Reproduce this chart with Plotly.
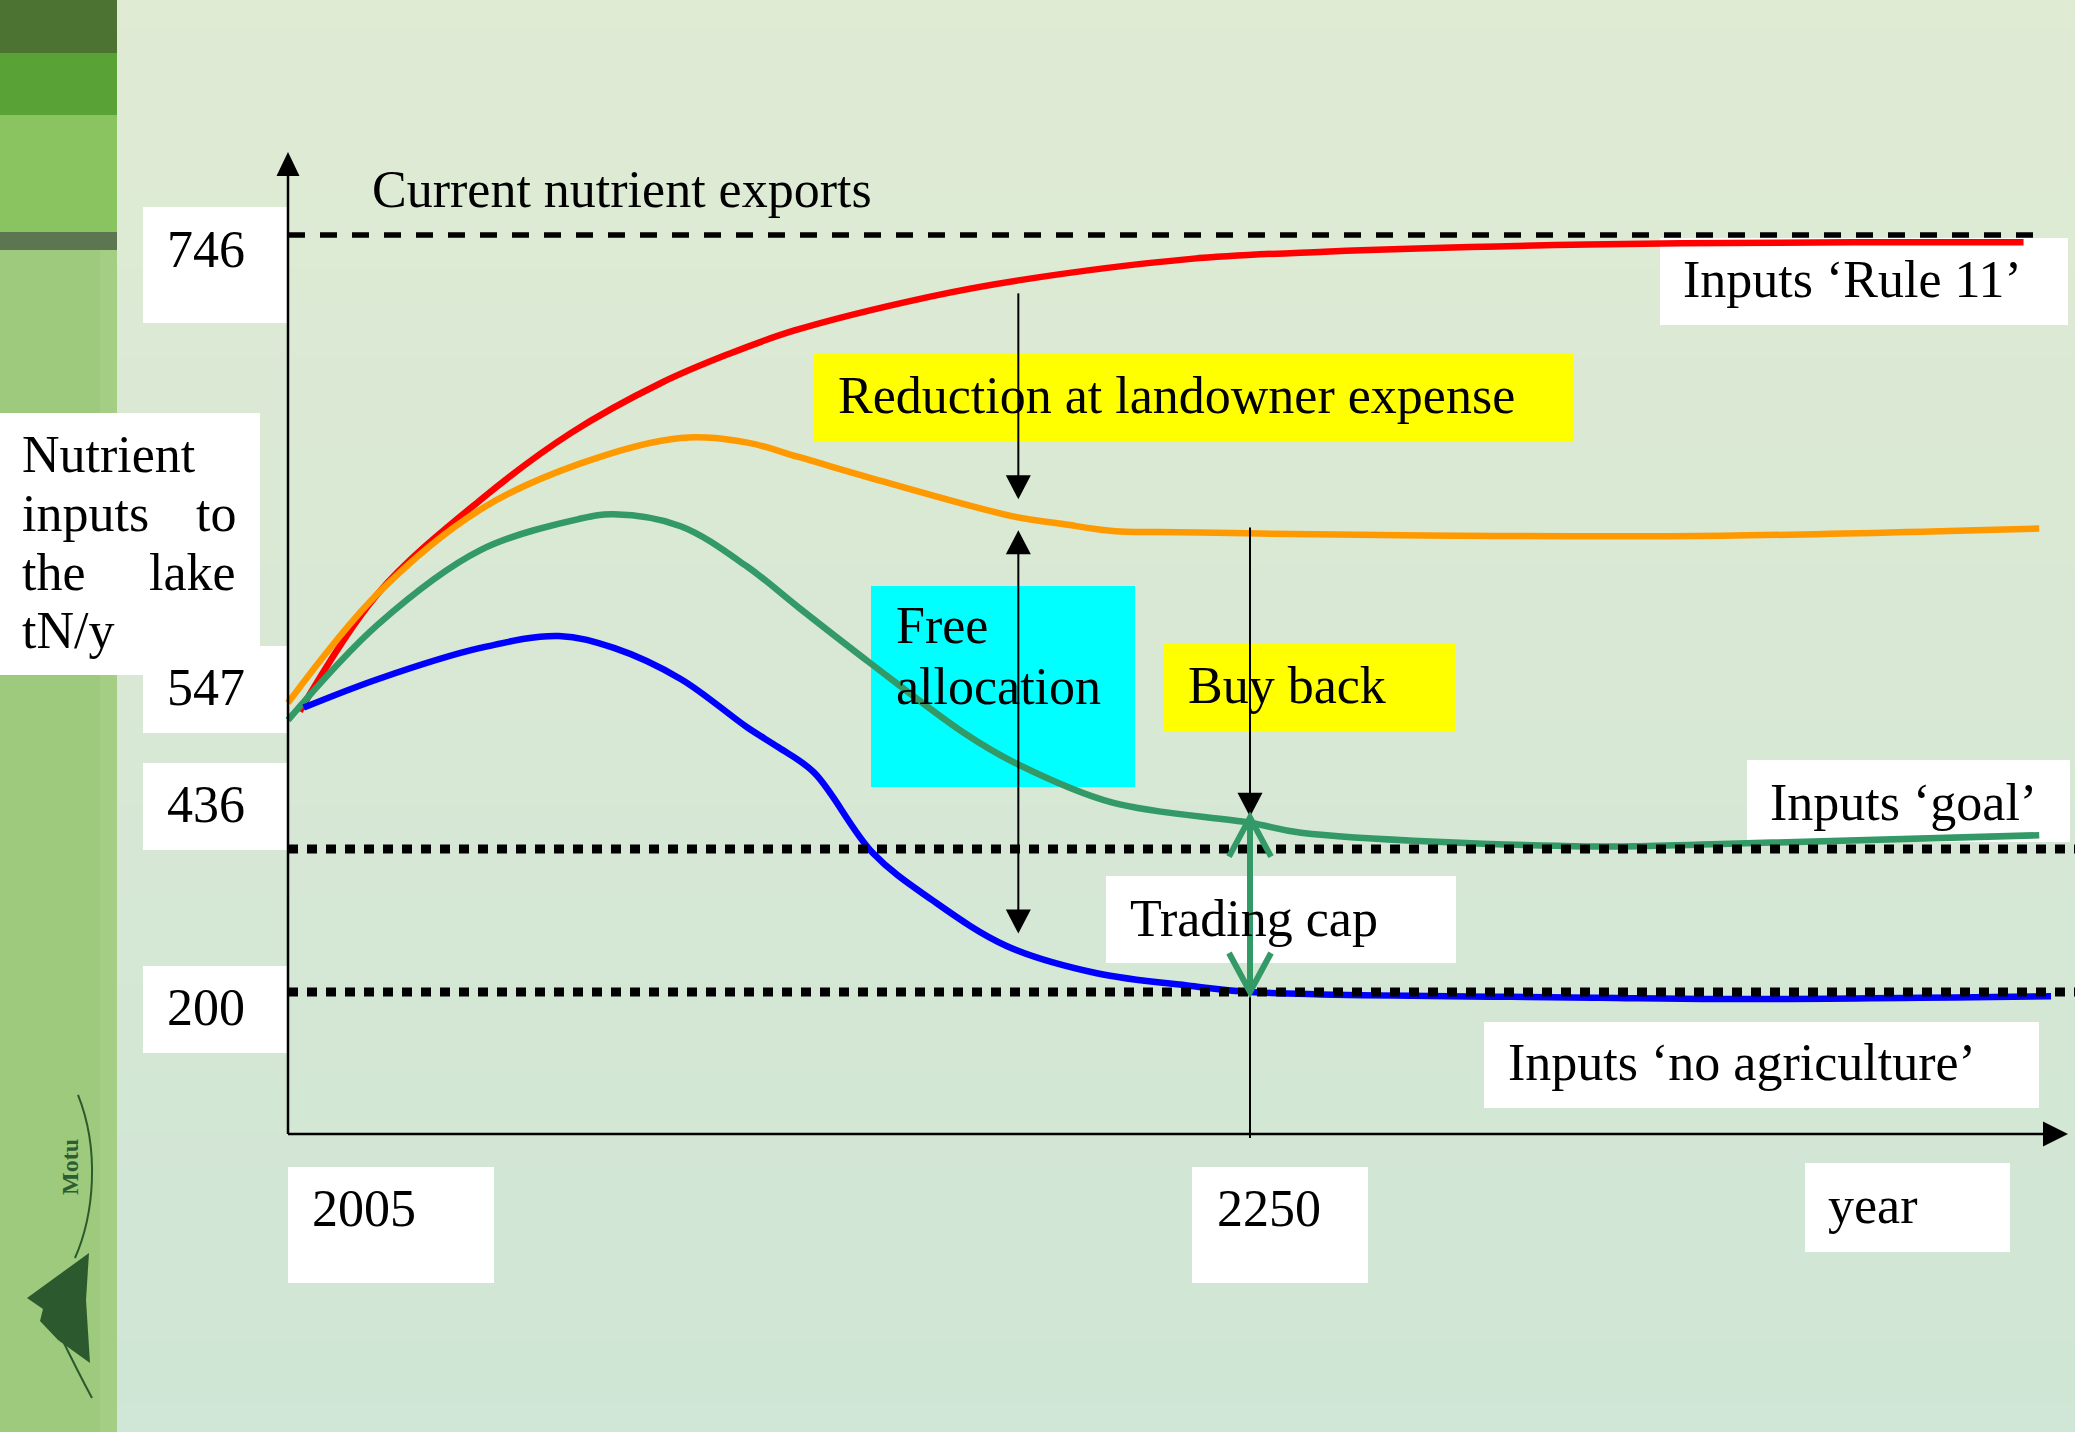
import numpy as np
import plotly.graph_objects as go

W, H = 2075, 1432
FONT = "Liberation Serif"

# ------------------------------------------------------------------ data
LEVEL_VALUES = [746, 547, 436, 200]            # tN/y levels marked on the vertical axis
LEVEL_LABELS = ["746", "547", "436", "200"]
EXPORTS_LEVEL = 746                            # current nutrient exports
GOAL_LEVEL = 436                               # inputs 'goal'
NO_AG_LEVEL = 200                              # inputs 'no agriculture'

START_YEAR = 2005
CAP_YEAR = 2250
SPLIT_YEAR = 2191                              # where the allocation arrows are drawn
YEAR_LABELS = ["2005", "2250", "year"]

rule11_years = [2008, 2028, 2054, 2077, 2100, 2117, 2134, 2168, 2191, 2235, 2269, 2336, 2404, 2447]
rule11_inputs = [546, 596, 635, 663, 684, 696, 706, 720, 727, 736, 739, 742, 743, 743]

landowner_years = [2005, 2028, 2054, 2079, 2105, 2122, 2135, 2156, 2190, 2202, 2215, 2232,
                   2249, 2302, 2370, 2451]
landowner_inputs = [550, 596, 631, 650, 661, 659, 653, 643, 628, 625, 622, 621.5,
                    621, 620, 620, 623]

goal_years = [2005, 2028, 2054, 2079, 2088, 2105, 2122, 2135, 2153, 2177, 2190, 2215,
              2250, 2263, 2336, 2370, 2451]
goal_inputs = [539, 583, 614, 627, 629, 624, 607, 590, 567, 529, 505, 473,
               457, 449, 438, 440, 447]

noag_years = [2009, 2028, 2054, 2074, 2088, 2105, 2122, 2130, 2139, 2154, 2169, 2188, 2211,
              2235, 2250, 2339, 2370, 2454]
noag_inputs = [548, 560, 573, 578, 573, 560, 533, 517, 497, 429, 352, 276, 231,
               210, 200, 192, 190, 194]

# ------------------------------------------------------------------ scales
# The diagram is schematic: each labelled level sits at a fixed height,
# with straight-line spacing in between (axis units are pixels above the bottom).
SCALE_VALUES = [0, 200, 436, 547, 746, 900]
SCALE_HEIGHTS = [298, 440, 583, 722, 1197, 1565]


def yv(v):
    return np.interp(np.asarray(v, dtype=float), SCALE_VALUES, SCALE_HEIGHTS)


AXIS_X_PX, CAP_X_PX = 288, 1250
PPY = (CAP_X_PX - AXIS_X_PX) / (CAP_YEAR - START_YEAR)      # pixels per year
X0 = START_YEAR - AXIS_X_PX / PPY
X1 = X0 + W / PPY


def xpx(px):          # pixel column -> year
    return X0 + px / PPY


def fx(px):           # pixel -> paper
    return px / W


def fy(py):
    return 1 - py / H


fig = go.Figure()
shapes = []

# ------------------------------------------------------------------ slide background
TOP, BOT = np.array([224, 235, 212]), np.array([208, 230, 214])
NB = 48
for i in range(NB):
    c = TOP + (BOT - TOP) * i / (NB - 1)
    shapes.append(dict(type="rect", xref="paper", yref="paper", layer="below",
                       x0=0, x1=1, y0=fy((i + 1) * H / NB + 1), y1=fy(i * H / NB),
                       fillcolor="rgb(%d,%d,%d)" % tuple(c.astype(int)), line_width=0))

SIDEBAR = [(0, 53, "#4d7332"), (53, 115, "#58a236"), (115, 232, "#89c460"),
           (232, 250, "#5c7651"), (250, H, "#9dca7c")]
for y0, y1, col in SIDEBAR:
    shapes.append(dict(type="rect", xref="paper", yref="paper", layer="below",
                       x0=0, x1=fx(117), y0=fy(y1), y1=fy(y0), fillcolor=col, line_width=0))
shapes.append(dict(type="rect", xref="paper", yref="paper", layer="below",
                   x0=fx(100), x1=fx(117), y0=0, y1=fy(250),
                   fillcolor="rgba(190,225,165,0.2)", line_width=0))


def ppath(pts, close=True):
    s = "M " + " L ".join("%.5f,%.5f" % (fx(x), fy(y)) for x, y in pts)
    return s + (" Z" if close else "")


# logo
LOGO = "#2c5a2e"
shapes.append(dict(type="path", xref="paper", yref="paper", layer="below",
                   path="M %.5f,%.5f C %.5f,%.5f %.5f,%.5f %.5f,%.5f" % (
                       fx(78), fy(1095), fx(100), fy(1150), fx(94), fy(1215), fx(75), fy(1258)),
                   line=dict(color=LOGO, width=2)))
shapes.append(dict(type="path", xref="paper", yref="paper", layer="below",
                   path="M %.5f,%.5f Q %.5f,%.5f %.5f,%.5f" % (
                       fx(60), fy(1335), fx(78), fy(1372), fx(92), fy(1398)),
                   line=dict(color=LOGO, width=2)))
shapes.append(dict(type="path", xref="paper", yref="paper", layer="below",
                   path=ppath([(89, 1253), (27, 1298), (43, 1309), (40, 1321), (58, 1340),
                               (90, 1363), (86, 1300)]),
                   fillcolor=LOGO, line_width=0))

# ------------------------------------------------------------------ label boxes
BOXES = [
    ((0, 413, 260, 675), "white"),          # axis title
    ((143, 207, 288, 323), "white"),        # 746
    ((143, 646, 288, 733), "white"),        # 547
    ((143, 763, 288, 850), "white"),        # 436
    ((143, 966, 288, 1053), "white"),       # 200
    ((1660, 238, 2068, 325), "white"),      # Rule 11
    ((814, 353, 1573, 442), "#ffff00"),     # reduction
    ((871, 586, 1135, 787), "#00ffff"),     # free allocation
    ((1164, 644, 1456, 732), "#ffff00"),    # buy back
    ((1106, 876, 1456, 963), "white"),      # trading cap
    ((1747, 760, 2070, 842), "white"),      # goal
    ((1484, 1022, 2039, 1108), "white"),    # no agriculture
    ((288, 1167, 494, 1283), "white"),      # 2005
    ((1192, 1167, 1368, 1283), "white"),    # 2250
    ((1805, 1163, 2010, 1252), "white"),    # year
]
for (x0, y0, x1, y1), col in BOXES:
    shapes.append(dict(type="rect", xref="paper", yref="paper", layer="below",
                       x0=fx(x0), x1=fx(x1), y0=fy(y1), y1=fy(y0),
                       fillcolor=col, line_width=0))

# ------------------------------------------------------------------ curves
CURVES = [
    (rule11_years, rule11_inputs, "#ff0000"),
    (landowner_years, landowner_inputs, "#ff9900"),
    (goal_years, goal_inputs, "#339966"),
    (noag_years, noag_inputs, "#0000ff"),
]
for xs, ys, col in CURVES:
    fig.add_trace(go.Scatter(x=xs, y=yv(ys), mode="lines", hoverinfo="skip",
                             line=dict(color=col, width=6.5, shape="spline", smoothing=1.0)))

# reference levels
for lvl in (GOAL_LEVEL, NO_AG_LEVEL):
    fig.add_trace(go.Scatter(x=[START_YEAR, X1], y=yv([lvl, lvl]), mode="lines",
                             hoverinfo="skip",
                             line=dict(color="black", width=9, dash="10px,9px")))
fig.add_trace(go.Scatter(x=[START_YEAR, max(goal_years)], y=yv([EXPORTS_LEVEL] * 2),
                         mode="lines", hoverinfo="skip",
                         line=dict(color="black", width=5.5, dash="17px,15px")))

# ------------------------------------------------------------------ axes and arrows
ORIGIN_Y = float(yv(0))


def line(xa, ya, xb, yb, col="black", w=2):
    shapes.append(dict(type="line", xref="x", yref="y", layer="above",
                       x0=xa, y0=ya, x1=xb, y1=yb, line=dict(color=col, width=w)))


def head(xt, yt, direction, width=25, length=24):
    hw = width / 2 / PPY
    if direction == "up":
        pts = [(xt, yt), (xt - hw, yt - length), (xt + hw, yt - length)]
    elif direction == "down":
        pts = [(xt, yt), (xt - hw, yt + length), (xt + hw, yt + length)]
    else:  # right
        pts = [(xt, yt), (xt - length / PPY, yt + width / 2), (xt - length / PPY, yt - width / 2)]
    shapes.append(dict(type="path", xref="x", yref="y", layer="above",
                       path="M " + " L ".join("%.4f,%.4f" % p for p in pts) + " Z",
                       fillcolor="black", line_width=0))


# vertical axis
y_top = H - 152
line(START_YEAR, ORIGIN_Y, START_YEAR, y_top - 20, w=2.5)
head(START_YEAR, y_top, "up", width=23, length=24)
# horizontal axis
x_end = xpx(2068)
line(START_YEAR, ORIGIN_Y, x_end - 20 / PPY, ORIGIN_Y, w=2.5)
head(x_end, ORIGIN_Y, "right", width=25, length=25)


def at(year, xs, ys):
    return float(np.interp(year, xs, yv(ys)))


red_s = at(SPLIT_YEAR, rule11_years, rule11_inputs)
orange_s = at(SPLIT_YEAR, landowner_years, landowner_inputs)
blue_s = at(SPLIT_YEAR, noag_years, noag_inputs)

# reduction at landowner expense
line(SPLIT_YEAR, red_s - 13, SPLIT_YEAR, orange_s + 30)
head(SPLIT_YEAR, orange_s + 18, "down")
# free allocation
line(SPLIT_YEAR, orange_s - 30, SPLIT_YEAR, blue_s + 28)
head(SPLIT_YEAR, orange_s - 13, "up")
head(SPLIT_YEAR, blue_s + 16, "down")

# buy back
orange_c = at(CAP_YEAR, landowner_years, landowner_inputs)
green_c = at(CAP_YEAR, goal_years, goal_inputs)
blue_c = at(CAP_YEAR, noag_years, noag_inputs)
line(CAP_YEAR, orange_c + 6, CAP_YEAR, ORIGIN_Y - 4)
head(CAP_YEAR, green_c + 6, "down")

# trading cap
GREEN = "#339966"
top_tip, bot_tip = green_c + 5, blue_c
line(CAP_YEAR, top_tip, CAP_YEAR, bot_tip, col=GREEN, w=6)
arm_x, arm_y = 21 / PPY, 39
for tip, sgn in ((top_tip, -1), (bot_tip, 1)):
    shapes.append(dict(type="path", xref="x", yref="y", layer="above",
                       path="M %.4f,%.4f L %.4f,%.4f L %.4f,%.4f" % (
                           CAP_YEAR - arm_x, tip + sgn * arm_y, CAP_YEAR, tip,
                           CAP_YEAR + arm_x, tip + sgn * arm_y),
                       line=dict(color=GREEN, width=6)))

# ------------------------------------------------------------------ text
SIZE = 52


def text(s, x, baseline, anchor="left", size=SIZE, color="black", angle=0):
    fig.add_annotation(text=s, x=fx(x), y=fy(baseline - 0.3375 * size),
                       xref="paper", yref="paper", xanchor=anchor, yanchor="middle",
                       showarrow=False, borderpad=0, borderwidth=0, textangle=angle,
                       font=dict(family=FONT, size=size, color=color))


text("Current nutrient exports", 372, 207)
LEVEL_TEXT_BASELINES = [267, 705, 822, 1025]
for lab, base in zip(LEVEL_LABELS, LEVEL_TEXT_BASELINES):
    text(lab, 167, base)

text("Nutrient", 22, 472)
text("inputs", 22, 531)
text("to", 236, 531, anchor="right")
text("the", 22, 590)
text("lake", 236, 590, anchor="right")
text("tN/y", 22, 648)

text("Inputs \u2018Rule 11\u2019", 1683, 297)
text("Reduction at landowner expense", 838, 413)
text("Free", 896, 643)
text("allocation", 896, 704)
text("Buy back", 1188, 703)
text("Trading cap", 1130, 936)
text("Inputs \u2018goal\u2019", 1770, 820)
text("Inputs \u2018no agriculture\u2019", 1508, 1080)

for lab, (x, base) in zip(YEAR_LABELS, [(312, 1226), (1217, 1226), (1828, 1223)]):
    text(lab, x, base)

fig.add_annotation(text="<b>Motu</b>", x=fx(70), y=fy(1167), xref="paper", yref="paper",
                   xanchor="center", yanchor="middle",
                   showarrow=False, textangle=-90, borderpad=0, borderwidth=0,
                   font=dict(family=FONT, size=24, color="#2f5d32"))

fig.update_layout(
    width=W, height=H, margin=dict(l=0, r=0, t=0, b=0),
    paper_bgcolor="#dbe9d4", plot_bgcolor="rgba(0,0,0,0)",
    showlegend=False, shapes=shapes,
    xaxis=dict(range=[X0, X1], visible=False, fixedrange=True),
    yaxis=dict(range=[0, H], visible=False, fixedrange=True),
)

fig.write_html("out.html", config={"displayModeBar": False})
